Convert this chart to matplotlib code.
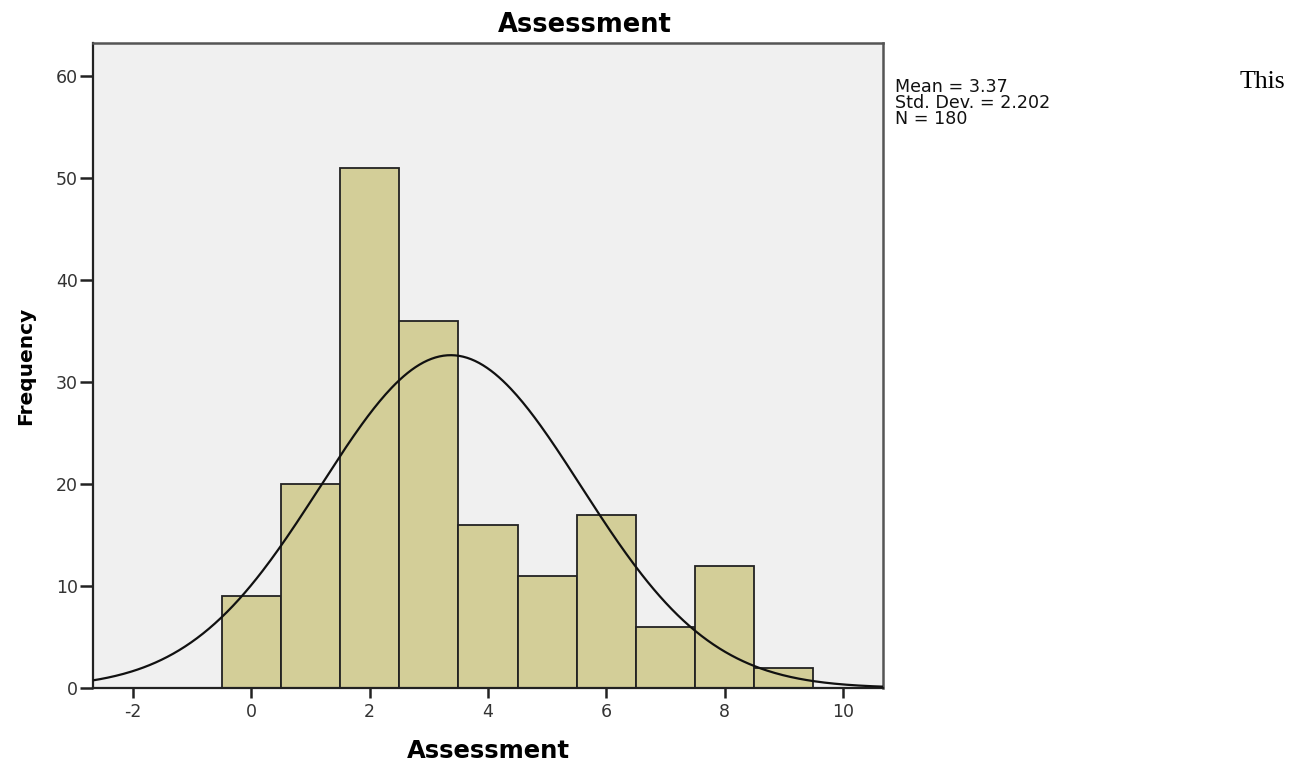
import numpy as np
import matplotlib
matplotlib.use("Agg")
import matplotlib.pyplot as plt

plt.rcParams["font.family"] = ["DejaVu Sans"]
plt.rcParams["axes.unicode_minus"] = False

# Data
bin_centers = [0, 1, 2, 3, 4, 5, 6, 7, 8, 9]
counts = [9, 20, 51, 36, 16, 11, 17, 6, 12, 2]
mean_val = 3.37
std_val = 2.202
n_val = 180
xticks = [-2, 0, 2, 4, 6, 8, 10]
yticks = [0, 10, 20, 30, 40, 50, 60]

fig = plt.figure(figsize=(13.02, 7.6), dpi=100)
ax = fig.add_axes([93/1302, 72/760, 790/1302, 645/760])
ax.set_facecolor("#F0F0F0")

ax.bar(bin_centers, counts, width=1.0, color="#D3CE98", edgecolor="#222222",
       linewidth=1.3, zorder=2)

xs = np.linspace(-2.7, 10.7, 400)
pdf = n_val * 1.0 / (std_val * np.sqrt(2 * np.pi)) * np.exp(-0.5 * ((xs - mean_val) / std_val) ** 2)
ax.plot(xs, pdf, color="#111111", linewidth=1.6, zorder=3)

ax.set_xlim(-2.68, 10.68)
ax.set_ylim(0, 63.2)
ax.set_xticks(xticks)
ax.set_yticks(yticks)
ax.tick_params(axis="x", direction="out", length=7, width=1.8, labelsize=12.5,
               colors="#222222", labelcolor="#333333", pad=3.5)
ax.tick_params(axis="y", direction="out", length=9.5, width=1.8, labelsize=12.5,
               colors="#222222", labelcolor="#333333", pad=1.5)
for side in ["left", "bottom"]:
    ax.spines[side].set_color("#222222")
    ax.spines[side].set_linewidth(1.6)
for side in ["top", "right"]:
    ax.spines[side].set_color("#555555")
    ax.spines[side].set_linewidth(1.8)

ax.set_title("Assessment", fontsize=18.5, fontweight="bold", pad=8, x=0.622)
ax.set_xlabel("Assessment", fontsize=17.5, fontweight="bold", labelpad=13)
ax.set_ylabel("Frequency", fontsize=14.5, fontweight="bold", labelpad=15)

fig.text(895/1302, 1 - 78/760,
         f"Mean = {mean_val}\nStd. Dev. = {std_val}\nN = {n_val}",
         fontsize=12.6, va="top", ha="left", linespacing=0.85, color="#111111")
fig.text(1240/1302, 1 - 82/760, "This", fontsize=18.5, family="Liberation Serif",
         va="center", ha="left", color="black")

fig.savefig("out.png", dpi=100)
